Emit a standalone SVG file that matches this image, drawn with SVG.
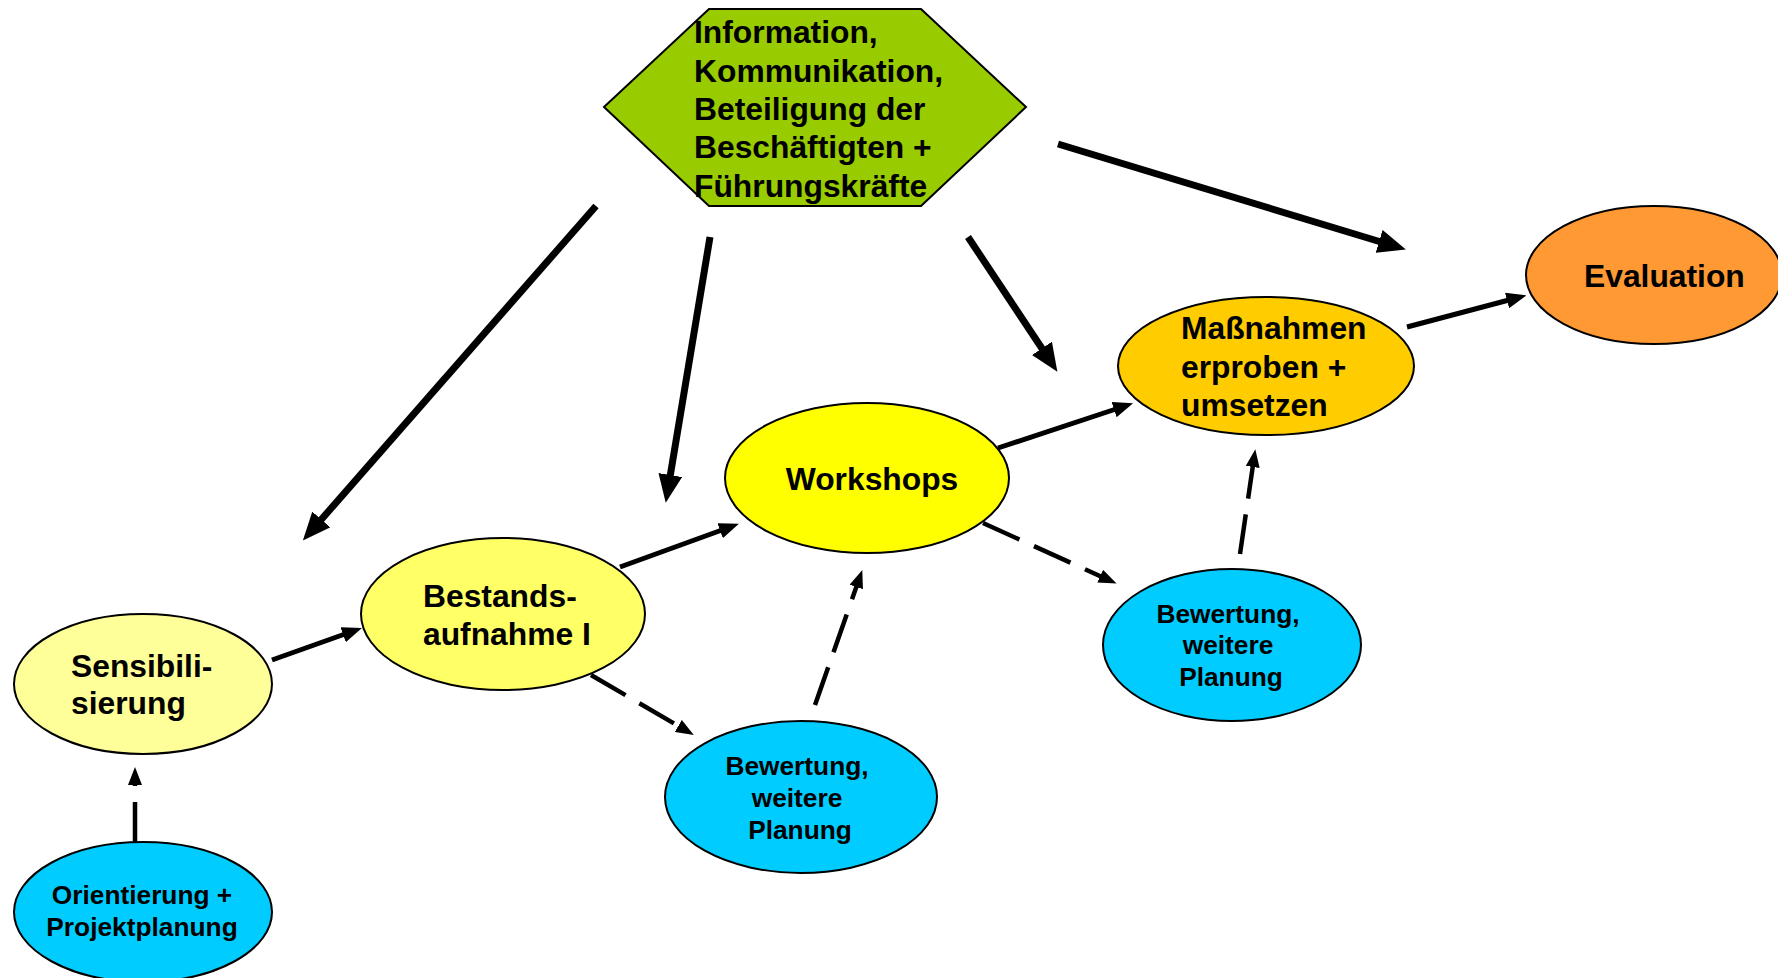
<svg xmlns="http://www.w3.org/2000/svg" width="1778" height="978" viewBox="0 0 1778 978">
<style>
text{font-family:"Liberation Sans",Arial,sans-serif;font-weight:bold;fill:#000}
.big{font-size:31.8px}
.sm{font-size:26.3px}
.node{stroke:#000;stroke-width:2}
.thick{stroke:#000;stroke-width:7;fill:none}
.med{stroke:#000;stroke-width:5;fill:none}
.dash{stroke:#000;stroke-width:4.5;fill:none;stroke-dasharray:40 16}
</style>
<defs>
<marker id="hBig" markerUnits="userSpaceOnUse" markerWidth="28" markerHeight="24" viewBox="0 0 28 24" refX="2" refY="12" orient="auto"><path d="M0,0 L28,12 L0,24 z" fill="#000"/></marker>
<marker id="hMed" markerUnits="userSpaceOnUse" markerWidth="20" markerHeight="16" viewBox="0 0 20 16" refX="2" refY="8" orient="auto"><path d="M0,0 L20,8 L0,16 z" fill="#000"/></marker>
<marker id="hSm" markerUnits="userSpaceOnUse" markerWidth="18" markerHeight="14" viewBox="0 0 18 14" refX="2" refY="7" orient="auto"><path d="M0,0 L18,7 L0,14 z" fill="#000"/></marker>
</defs>
<rect width="1778" height="978" fill="#fff"/>
<g id="connectors">
<line class="thick" x1="596" y1="206" x2="320" y2="521" marker-end="url(#hBig)"/>
<line class="thick" x1="710" y1="237" x2="670" y2="477" marker-end="url(#hBig)"/>
<line class="thick" x1="968" y1="237" x2="1043" y2="350" marker-end="url(#hBig)"/>
<line class="thick" x1="1058" y1="144" x2="1381" y2="242" marker-end="url(#hBig)"/>
<line class="med" x1="272" y1="660" x2="345" y2="634" marker-end="url(#hMed)"/>
<line class="med" x1="620" y1="567" x2="722" y2="530" marker-end="url(#hMed)"/>
<line class="med" x1="998" y1="448" x2="1116" y2="409" marker-end="url(#hMed)"/>
<line class="med" x1="1407" y1="327" x2="1509" y2="300" marker-end="url(#hMed)"/>
<line class="dash" x1="135" y1="842" x2="135" y2="783" marker-end="url(#hSm)"/>
<line class="dash" x1="591" y1="675" x2="680" y2="727" marker-end="url(#hSm)"/>
<line class="dash" x1="815" y1="705" x2="857" y2="585" marker-end="url(#hSm)"/>
<line class="dash" x1="983" y1="523" x2="1102" y2="577" marker-end="url(#hSm)"/>
<line class="dash" x1="1240" y1="554" x2="1253" y2="465" marker-end="url(#hSm)"/>
</g>
<g id="info">
<polygon class="node" points="604,107 709,9 921,9 1026,107 921,206 709,206" fill="#99CC00"/>
<text class="big" x="694" y="43">Information,</text>
<text class="big" x="694" y="82">Kommunikation,</text>
<text class="big" x="694" y="120">Beteiligung der</text>
<text class="big" x="694" y="158">Beschäftigten +</text>
<text class="big" x="694" y="197">Führungskräfte</text>
</g>
<g id="sensibilisierung">
<ellipse class="node" cx="143" cy="684" rx="129" ry="70" fill="#FFFF99"/>
<text class="big" x="71" y="677">Sensibili-</text>
<text class="big" x="71" y="714">sierung</text>
</g>
<g id="bestandsaufnahme">
<ellipse class="node" cx="503" cy="614" rx="142" ry="76" fill="#FFFF66"/>
<text class="big" x="423" y="607">Bestands-</text>
<text class="big" x="423" y="645">aufnahme I</text>
</g>
<g id="workshops">
<ellipse class="node" cx="867" cy="478" rx="142" ry="75" fill="#FFFF00"/>
<text class="big" x="872" y="490" text-anchor="middle">Workshops</text>
</g>
<g id="massnahmen">
<ellipse class="node" cx="1266" cy="366" rx="148" ry="69" fill="#FFCC00"/>
<text class="big" x="1181" y="339">Maßnahmen</text>
<text class="big" x="1181" y="378">erproben +</text>
<text class="big" x="1181" y="416">umsetzen</text>
</g>
<g id="evaluation">
<ellipse class="node" cx="1654" cy="275" rx="128" ry="69" fill="#FF9933"/>
<text class="big" x="1584" y="287">Evaluation</text>
</g>
<g id="orientierung">
<ellipse class="node" cx="143" cy="912" rx="129" ry="70" fill="#00CCFF"/>
<text class="sm" x="142" y="904" text-anchor="middle">Orientierung +</text>
<text class="sm" x="142" y="936" text-anchor="middle">Projektplanung</text>
</g>
<g id="bewertung1">
<ellipse class="node" cx="801" cy="797" rx="136" ry="76" fill="#00CCFF"/>
<text class="sm" x="797" y="775" text-anchor="middle">Bewertung,</text>
<text class="sm" x="797" y="807" text-anchor="middle">weitere</text>
<text class="sm" x="800" y="839" text-anchor="middle">Planung</text>
</g>
<g id="bewertung2">
<ellipse class="node" cx="1232" cy="645" rx="129" ry="76" fill="#00CCFF"/>
<text class="sm" x="1228" y="623" text-anchor="middle">Bewertung,</text>
<text class="sm" x="1228" y="654" text-anchor="middle">weitere</text>
<text class="sm" x="1231" y="686" text-anchor="middle">Planung</text>
</g>
</svg>
